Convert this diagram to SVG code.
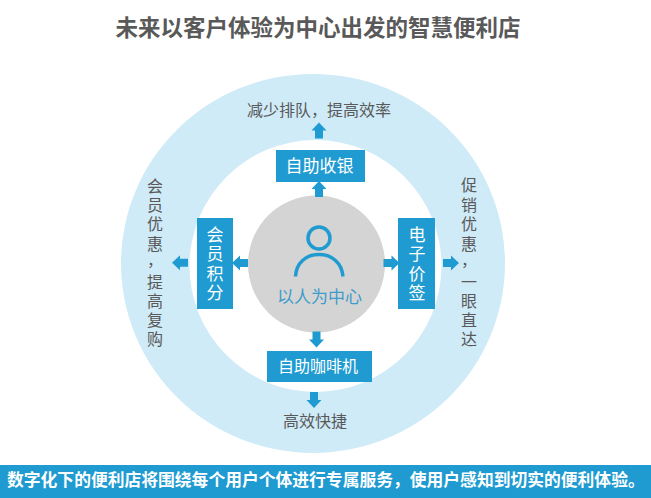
<svg xmlns="http://www.w3.org/2000/svg" width="651" height="498" viewBox="0 0 651 498">
<style>
text{font-family:"Noto Sans CJK SC","Liberation Sans",sans-serif}
.box{fill:#1f9bd1}
.w{fill:#fff;font-size:17px;text-anchor:middle}
.g{fill:#595959;font-size:16px;text-anchor:middle}
.a{fill:#1f9bd1}
</style>
<defs>
<path id="up" d="M0-8 7.500 0H4V8H-4V0H-7.500Z"/>
</defs>
<rect width="651" height="498" fill="#fff"/>
<text x="318" y="36" font-size="22.500" font-weight="700" fill="#595959" text-anchor="middle">未来以客户体验为中心出发的智慧便利店</text>
<g id="ring"><ellipse cx="313" cy="263.400" rx="192" ry="189.500" fill="#cfebf8"/><circle cx="315.500" cy="266" r="126" fill="#fff"/></g>
<g id="center">
<circle cx="316.500" cy="264" r="68.500" fill="#d4d4d4"/>
<circle cx="319" cy="238" r="11" fill="none" stroke="#1f9bd1" stroke-width="3.500"/>
<path d="M295.500 276.500C296 263 306 254.500 319 254.500S342 263 343 276.500" fill="none" stroke="#1f9bd1" stroke-width="3.500"/>
<text x="319.500" y="303" font-size="17" fill="#3d9ccb" text-anchor="middle">以人为中心</text>
</g>
<g id="connectors" class="a">
<use href="#up" x="319" y="130.500"/>
<use href="#up" x="319" y="189"/>
<use href="#up" transform="translate(316.500 339.500) rotate(180)"/>
<use href="#up" transform="translate(314 400) rotate(180)"/>
<use href="#up" transform="translate(180 262.700) rotate(-90)"/>
<use href="#up" transform="translate(240 263) rotate(-90)"/>
<use href="#up" transform="translate(391.500 263) rotate(90)"/>
<use href="#up" transform="translate(451 263) rotate(90)"/>
</g>
<g id="top-box"><rect class="box" x="276" y="150" width="89" height="32"/><text class="w" x="319.500" y="172">自助收银</text></g>
<g id="bottom-box"><rect class="box" x="267" y="351" width="105" height="31"/><text class="w" x="318" y="372" style="font-size:16px">自助咖啡机</text></g>
<g id="left-box"><rect class="box" x="197" y="218" width="36" height="91"/>
<text class="w" x="215 215 215 215" y="241 260 280 299">会员积分</text></g>
<g id="right-box"><rect class="box" x="398" y="218" width="37" height="91"/>
<text class="w" x="417 417 417 417" y="241 260 280 299">电子价签</text></g>
<g id="top-label"><text class="g" x="319" y="116">减少排队，提高效率</text></g>
<g id="bottom-label"><text class="g" x="315" y="427">高效快捷</text></g>
<g id="left-label">
<text class="g" x="155 155 155 155 155 155 155 155 155" y="192 211 230 250 266 288 307 326 345">会员优惠，提高复购</text>
</g>
<g id="right-label">
<text class="g" x="469 469 469 469 469 469 469 469 469" y="191 211 230 250 266 288 307 326 345">促销优惠，一眼直达</text>
</g>
<g id="banner"><rect x="0" y="465" width="651" height="33" fill="#1f9bd1"/>
<text x="7" y="486" font-size="16.800" font-weight="700" fill="#fff">数字化下的便利店将围绕每个用户个体进行专属服务，使用户感知到切实的便利体验。</text></g>
</svg>
